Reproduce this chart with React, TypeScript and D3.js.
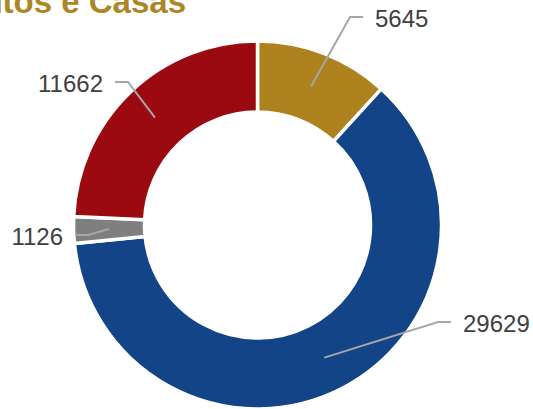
import React from "react";
import * as d3 from "d3";

const categories = ["Gold", "Blue", "Gray", "Red"];
const values = [5645, 29629, 1126, 11662];
const colors = ["#AD821F", "#134488", "#7F7F7F", "#9B0A10"];
const titleText = "Apartamentos e Casas";

// label layout: anchor point of text, side
const labelPos = [
  { x: 375, y: 18, side: "right" },
  { x: 463, y: 323, side: "right" },
  { x: 63, y: 236, side: "left" },
  { x: 103, y: 83, side: "left" },
];

const W = 533;
const H = 409;
const cx = 257.5;
const cy = 225;
const R = 184;
const r = 113;

export default function App() {
  const pie = d3.pie<number>().sort(null).value((d) => d).startAngle(0).endAngle(2 * Math.PI);
  const arcs = pie(values);
  const arc = d3.arc<d3.PieArcDatum<number>>().innerRadius(r).outerRadius(R);
  const mid = d3.arc<d3.PieArcDatum<number>>().innerRadius((R + r) / 2).outerRadius((R + r) / 2);

  return (
    <svg width={W} height={H} style={{ position: "absolute", left: 0, top: 0 }}>
      <text x={186} y={13} textAnchor="end" fontFamily="Liberation Sans, Arial, sans-serif" fontWeight="bold" fontSize={33} fill="#AE8527">
        {titleText}
      </text>
      <g transform={`translate(${cx},${cy})`}>
        {arcs.map((a, i) => (
          <path key={categories[i]} d={arc(a) || ""} fill={colors[i]} stroke="#ffffff" strokeWidth={3.5} strokeLinejoin="miter" />
        ))}
      </g>
      {arcs.map((a, i) => {
        const [mx, my] = mid.centroid(a);
        const sx = mx + cx;
        const sy = my + cy;
        const lp = labelPos[i];
        const dir = lp.side === "right" ? -1 : 1;
        const ex = lp.x + dir * 12;
        const bx = ex + dir * 13;
        const ly = lp.y - 1;
        return (
          <g key={"l" + i}>
            <polyline points={`${sx},${sy} ${bx},${ly} ${ex},${ly}`} fill="none" stroke="#A6A6A6" strokeWidth={2} />
            <text x={lp.x} y={lp.y} dy="0.36em" textAnchor={lp.side === "right" ? "start" : "end"} fontFamily="Liberation Sans, Arial, sans-serif" fontSize={24} fill="#404040">
              {values[i]}
            </text>
          </g>
        );
      })}
    </svg>
  );
}
